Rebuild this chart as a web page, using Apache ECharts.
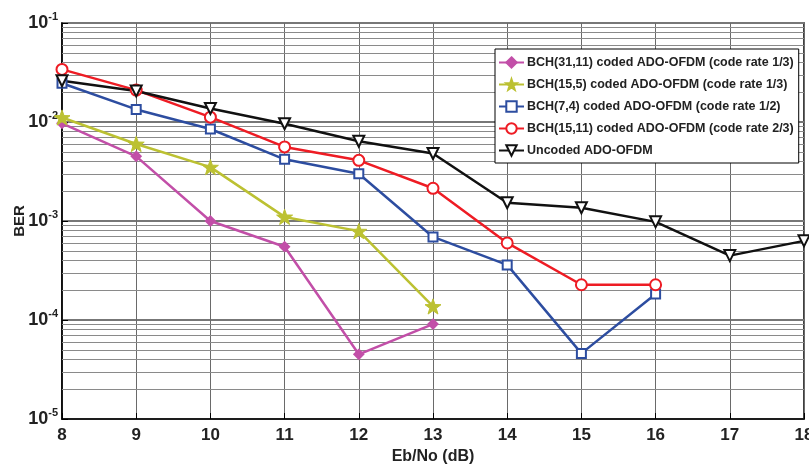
<!DOCTYPE html>
<html>
<head>
<meta charset="utf-8">
<script src="https://cdn.jsdelivr.net/npm/echarts@6/dist/echarts.min.js"></script>
<style>html,body{margin:0;padding:0;background:#fff}#c{width:809px;height:470px}</style>
</head>
<body>
<div id="c"></div>
<script>
const xTicks = [8, 9, 10, 11, 12, 13, 14, 15, 16, 17, 18];
const seriesNames = [
  'BCH(31,11) coded ADO-OFDM (code rate 1/3)',
  'BCH(15,5) coded ADO-OFDM (code rate 1/3)',
  'BCH(7,4) coded ADO-OFDM (code rate 1/2)',
  'BCH(15,11) coded ADO-OFDM (code rate 2/3)',
  'Uncoded ADO-OFDM'
];
const xBch31 = [8, 9, 10, 11, 12, 13];
const bch31 = [0.0097, 0.0045, 0.001, 0.00055, 0.000045, 0.000091];
const xBch155 = [8, 9, 10, 11, 12, 13];
const bch155 = [0.0111, 0.006, 0.0035, 0.0011, 0.00079, 0.000137];
const xBch74 = [8, 9, 10, 11, 12, 13, 14, 15, 16];
const bch74 = [0.0246, 0.0134, 0.0085, 0.0042, 0.003, 0.00069, 0.00036, 0.000046, 0.000183];
const xBch1511 = [8, 9, 10, 11, 12, 13, 14, 15, 16];
const bch1511 = [0.034, 0.021, 0.0112, 0.0056, 0.0041, 0.00214, 0.0006, 0.000227, 0.000227];
const xUncoded = [8, 9, 10, 11, 12, 13, 14, 15, 16, 17, 18];
const uncoded = [0.0261, 0.0206, 0.0137, 0.0096, 0.0064, 0.0048, 0.00153, 0.00136, 0.00098, 0.000447, 0.00063];
const yDecades = [-5, -4, -3, -2, -1];
const minorMult = [2, 3, 4, 5, 6, 7, 8, 9];

const FONT = "'Liberation Sans', Arial, sans-serif";
const colors = ['#C24FA8', '#BCC132', '#2D4DA0', '#EE1C24', '#111111'];
const starPath = 'path://M0,-10L2.35,-3.24L9.51,-3.09L3.8,1.24L5.88,8.09L0,4L-5.88,8.09L-3.8,1.24L-9.51,-3.09L-2.35,-3.24Z';

function pairs(xs, ys) { return xs.map((x, i) => [x, ys[i]]); }

const minorLines = [];
yDecades.slice(0, -1).forEach(e => minorMult.forEach(m => {
  const v = m * Math.pow(10, e);
  minorLines.push({ coords: [[xTicks[0], v], [xTicks[xTicks.length - 1], v]] });
}));

const chart = echarts.init(document.getElementById('c'), null, { renderer: 'canvas' });
const mk = (i, xs, ys, symbol, size, extra) => Object.assign({
  name: seriesNames[i], type: 'line', data: pairs(xs, ys), z: 5,
  symbol: symbol, symbolSize: size, showAllSymbol: true,
  lineStyle: { color: colors[i], width: 2.5 },
  itemStyle: { color: colors[i], borderColor: colors[i], borderWidth: 2 },
  emphasis: { disabled: true }, animation: false
}, extra || {});

chart.setOption({
  animation: false,
  backgroundColor: '#fff',
  grid: { left: 62, right: 5, top: 23, bottom: 51, containLabel: false, outerBoundsMode: 'none',
    show: true, borderColor: '#000', borderWidth: 1.5, backgroundColor: 'transparent' },
  xAxis: {
    type: 'value', min: 8, max: 18, interval: 1,
    name: 'Eb/No (dB)', nameLocation: 'middle', nameGap: 30,
    nameTextStyle: { fontFamily: FONT, fontWeight: 'bold', fontSize: 16, color: '#222' },
    axisLine: { show: true, onZero: false, lineStyle: { color: '#000', width: 1.5 } },
    axisTick: { show: true, inside: true, length: 6, lineStyle: { color: '#000' } },
    axisLabel: { fontFamily: FONT, fontWeight: 'bold', fontSize: 17, color: '#222', margin: 8,
      formatter: v => xTicks.indexOf(v) >= 0 ? String(v) : '' },
    splitLine: { show: true, lineStyle: { color: '#6a6a6a', width: 1 } }
  },
  yAxis: {
    type: 'log', logBase: 10, min: 1e-5, max: 1e-1,
    name: 'BER', nameLocation: 'middle', nameGap: 35, nameMoveOverlap: false,
    nameTextStyle: { fontFamily: FONT, fontWeight: 'bold', fontSize: 15, color: '#222' },
    axisLine: { show: true, lineStyle: { color: '#000', width: 1.5 } },
    axisTick: { show: true, inside: true, length: 6, lineStyle: { color: '#000' } },
    axisLabel: {
      margin: 4,
      formatter: v => '{b|10}{s|' + Math.round(Math.log10(v)) + '}',
      rich: {
        b: { fontFamily: FONT, fontWeight: 'bold', fontSize: 18, color: '#222' },
        s: { fontFamily: FONT, fontWeight: 'bold', fontSize: 11, color: '#222', padding: [0, 0, 13, 0] }
      }
    },
    splitLine: { show: true, lineStyle: { color: '#777', width: 2 } }
  },
  legend: {
    data: seriesNames, orient: 'vertical', left: 495, top: 49,
    backgroundColor: '#fff', borderColor: '#000', borderWidth: 1,
    padding: [7, 5, 6, 3], itemGap: 9, itemWidth: 25, itemHeight: 13,
    textStyle: { fontFamily: FONT, fontWeight: 'bold', fontSize: 12.5, color: '#222', padding: [0, 0, 0, -2] }
  },
  series: [
    {
      name: 'minor', type: 'lines', coordinateSystem: 'cartesian2d', z: 1, silent: true,
      polyline: false, symbol: ['none', 'none'],
      lineStyle: { color: '#8a8a8a', width: 1, type: 'solid', opacity: 1 },
      emphasis: { disabled: true }, data: minorLines
    },
    mk(0, xBch31, bch31, 'diamond', 9),
    mk(1, xBch155, bch155, starPath, 16, { symbolKeepAspect: true, itemStyle: { color: colors[1], borderColor: colors[1], borderWidth: 1 } }),
    mk(2, xBch74, bch74, 'emptyRect', 9),
    mk(3, xBch1511, bch1511, 'emptyCircle', 11),
    mk(4, xUncoded, uncoded, 'emptyTriangle', 11, { symbolRotate: 180 })
  ]
});
</script>
</body>
</html>
